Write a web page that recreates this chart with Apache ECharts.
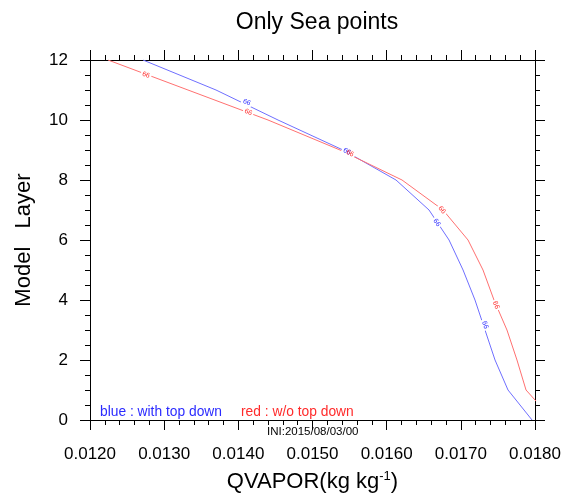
<!DOCTYPE html>
<html>
<head>
<meta charset="utf-8">
<script src="https://cdn.jsdelivr.net/npm/echarts@6/dist/echarts.min.js"></script>
<style>
  html, body { margin: 0; padding: 0; background: #fff; }
  #chart { width: 564px; height: 501px; }
</style>
</head>
<body>
<div id="chart"></div>
<script>
// model layers (y) and QVAPOR values (x)
const layers = [0, 1, 2, 3, 4, 5, 6, 7, 8, 9, 10, 11, 12];
const blueQv = [0.01796, 0.017636, 0.017461, 0.017326, 0.017191, 0.01703, 0.016841,
                0.016571, 0.016126, 0.015411, 0.014535, 0.013699, 0.012715];
const redQv  = [0.018243, 0.017879, 0.017757, 0.017622, 0.017447, 0.017299, 0.017097,
                0.01676, 0.016207, 0.015371, 0.0144, 0.013321, 0.012243];

// little line labels along each curve [x, y]
const blueTags = [[0.014113, 10.59], [0.015465, 8.95], [0.016675, 6.58], [0.017326, 3.17]];
const redTags  = [[0.012755, 11.5], [0.014134, 10.26], [0.015506, 8.89], [0.016746, 7.0], [0.017474, 3.83]];
const blueTagRot = [-22, -27, -55, -72];
const redTagRot  = [-20, -22, -28, -50, -70];

const xTicks = { min: 0.012, max: 0.018, step: 0.001 };
const yTicks = { min: 0, max: 12, step: 2 };

const FONT = 'Liberation Sans, Arial, Helvetica, sans-serif';
const BLUE_LINE = '#6f6fff';
const RED_LINE = '#ff7070';

const pairs = (xs) => xs.map((x, i) => [x, layers[i]]);

const tagPoints = (tags, rots, color) => ({
  silent: true,
  symbol: 'rect',
  symbolSize: [11, 7],
  itemStyle: { color: '#fff' },
  label: { show: true, formatter: '66', fontSize: 7, fontFamily: FONT, color: color, position: 'inside' },
  data: tags.map((p, i) => ({
    coord: p,
    symbolRotate: rots[i],
    label: { rotate: rots[i] }
  }))
});

const axisCommon = {
  axisLine: { show: true, onZero: false, lineStyle: { color: '#000', width: 1 } },
  axisTick: { show: true, inside: false, length: 10, lineStyle: { color: '#000', width: 1 } },
  minorTick: { show: true, length: 5, lineStyle: { color: '#000', width: 1 } },
  splitLine: { show: false },
  minorSplitLine: { show: false }
};

const options = {
  animation: false,
  backgroundColor: '#fff',
  title: {
    text: 'Only Sea points',
    left: 312,
    top: 6,
    textAlign: 'center',
    textStyle: { fontFamily: FONT, fontSize: 23, fontWeight: 'normal', color: '#000' }
  },
  grid: { left: 90, right: 29, top: 60, bottom: 81 },
  xAxis: [
    Object.assign({}, axisCommon, {
      type: 'value',
      position: 'bottom',
      min: xTicks.min, max: xTicks.max, interval: xTicks.step,
      minorTick: Object.assign({}, axisCommon.minorTick, { splitNumber: 5 }),
      axisLabel: {
        margin: 26, fontSize: 17, fontFamily: FONT, color: '#000',
        formatter: (v) => v.toFixed(4)
      },
      name: '{a|QVAPOR(kg kg}{s|-1}{a|)}',
      nameLocation: 'middle',
      nameGap: 48,
      nameTextStyle: {
        rich: {
          a: { fontSize: 22, fontFamily: FONT, color: '#000', lineHeight: 28 },
          s: { fontSize: 13, fontFamily: FONT, color: '#000', lineHeight: 28, padding: [0, 0, 12, 0] }
        }
      }
    }),
    Object.assign({}, axisCommon, {
      type: 'value',
      position: 'top',
      min: xTicks.min, max: xTicks.max, interval: xTicks.step,
      minorTick: Object.assign({}, axisCommon.minorTick, { splitNumber: 5 }),
      axisLabel: { show: false }
    })
  ],
  yAxis: [
    Object.assign({}, axisCommon, {
      type: 'value',
      position: 'left',
      min: yTicks.min, max: yTicks.max, interval: yTicks.step,
      minorTick: Object.assign({}, axisCommon.minorTick, { splitNumber: 4 }),
      axisLabel: { margin: 22, fontSize: 17, fontFamily: FONT, color: '#000' },
      name: 'Model   Layer',
      nameLocation: 'middle',
      nameGap: 55,
      nameTextStyle: { fontSize: 22, fontFamily: FONT, color: '#000' }
    }),
    Object.assign({}, axisCommon, {
      type: 'value',
      position: 'right',
      min: yTicks.min, max: yTicks.max, interval: yTicks.step,
      minorTick: Object.assign({}, axisCommon.minorTick, { splitNumber: 4 }),
      axisLabel: { show: false }
    })
  ],
  graphic: [
    { type: 'text', left: 100, top: 405,
      style: { text: 'blue : with top down', fontSize: 13.8, fontFamily: FONT, fill: '#2b2bff' } },
    { type: 'text', left: 241, top: 405,
      style: { text: 'red : w/o top down', fontSize: 13.8, fontFamily: FONT, fill: '#ff2b2b' } },
    { type: 'text', left: 267, top: 426,
      style: { text: 'INI:2015/08/03/00', fontSize: 11.5, fontFamily: FONT, fill: '#000' } }
  ],
  series: [
    {
      name: 'with top down',
      type: 'line',
      data: pairs(blueQv),
      symbol: 'none',
      clip: true,
      lineStyle: { color: BLUE_LINE, width: 1 },
      markPoint: tagPoints(blueTags, blueTagRot, '#2b2bff')
    },
    {
      name: 'w/o top down',
      type: 'line',
      data: pairs(redQv),
      symbol: 'none',
      clip: true,
      lineStyle: { color: RED_LINE, width: 1 },
      markPoint: tagPoints(redTags, redTagRot, '#ff2b2b')
    }
  ]
};

const myChart = echarts.init(document.getElementById('chart'));
myChart.setOption(options);
</script>
</body>
</html>
